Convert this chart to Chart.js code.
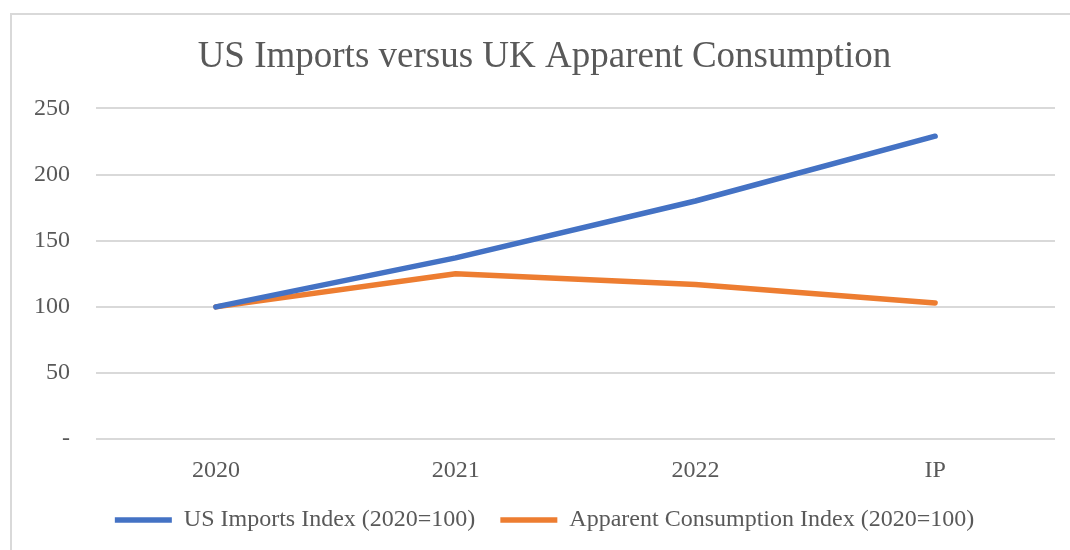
<!DOCTYPE html>
<html>
<head>
<meta charset="utf-8">
<script src="https://cdn.jsdelivr.net/npm/chart.js@4/dist/chart.umd.min.js"></script>
<style>
  html, body { margin: 0; padding: 0; background: #fff; }
  #wrap { width: 1070px; height: 550px; position: relative; }
</style>
</head>
<body>
<div id="wrap"><canvas id="chart"></canvas></div>
<script>
const categories = ['2020', '2021', '2022', 'IP'];
const usImports = [100, 137, 180, 229];
const apparentConsumption = [100, 125, 117, 103];
const yTicks = [0, 50, 100, 150, 200, 250];

const serif = '"Liberation Serif", "Times New Roman", serif';
const grey = '#595959';

// light frame round the chart, like the spreadsheet chart box
const framePlugin = {
    id: 'frame',
    beforeDraw(chart) {
        const ctx = chart.ctx;
        ctx.save();
        ctx.strokeStyle = '#d9d9d9';
        ctx.lineWidth = 2;
        ctx.strokeRect(11, 14, 1200, 700);
        ctx.restore();
    }
};

new Chart(document.getElementById('chart'), {
    type: 'line',
    data: {
        labels: categories,
        datasets: [{
            label: 'US Imports Index (2020=100)',
            data: usImports,
            borderColor: '#4472C4',
            backgroundColor: '#4472C4',
            borderWidth: 5.5,
            pointRadius: 0,
            borderCapStyle: 'round',
            borderJoinStyle: 'round',
            tension: 0
        }, {
            label: 'Apparent Consumption Index (2020=100)',
            data: apparentConsumption,
            borderColor: '#ED7D31',
            backgroundColor: '#ED7D31',
            borderWidth: 5.5,
            pointRadius: 0,
            borderCapStyle: 'round',
            borderJoinStyle: 'round',
            tension: 0
        }]
    },
    options: {
        responsive: true,
        maintainAspectRatio: false,
        animation: false,
        layout: { padding: { top: 35, left: 34, right: 15, bottom: 8 } },
        scales: {
            x: {
                offset: true,
                grid: { display: false },
                border: { display: false },
                ticks: { color: grey, font: { family: serif, size: 24 }, padding: 9 },
                afterFit(axis) { axis.height -= 11; }
            },
            y: {
                min: 0,
                max: 250,
                afterBuildTicks(axis) {
                    axis.ticks = yTicks.map(v => ({ value: v }));
                },
                afterFit(axis) { axis.width = 62; },
                grid: { color: '#d9d9d9', lineWidth: 2, drawTicks: false },
                border: { display: false },
                ticks: {
                    color: grey,
                    font: { family: serif, size: 24 },
                    padding: 26,
                    callback: v => v === 0 ? '-' : v
                }
            }
        },
        plugins: {
            title: {
                display: true,
                text: 'US Imports versus UK Apparent Consumption',
                color: grey,
                font: { family: serif, size: 37, weight: 'normal' },
                padding: { top: 0, bottom: 29 }
            },
            legend: {
                position: 'bottom',
                labels: {
                    color: grey,
                    font: { family: serif, size: 24 },
                    usePointStyle: true,
                    pointStyle: 'line',
                    pointStyleWidth: 57,
                    boxHeight: 24,
                    padding: 25
                }
            },
            tooltip: { enabled: false }
        }
    },
    plugins: [framePlugin]
});
</script>
</body>
</html>
